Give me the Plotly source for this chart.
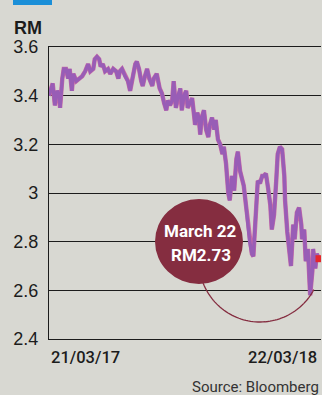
import math
import plotly.graph_objects as go

# ---- data ----
dates = [
    "2017-03-21", "2017-03-24", "2017-03-26", "2017-03-29", "2017-04-01", "2017-04-04", "2017-04-05",
    "2017-04-08", "2017-04-10", "2017-04-13", "2017-04-16", "2017-04-18", "2017-04-21", "2017-04-23",
    "2017-04-27", "2017-05-01", "2017-05-05", "2017-05-09", "2017-05-13", "2017-05-16", "2017-05-20",
    "2017-05-22", "2017-05-25", "2017-05-28", "2017-05-30", "2017-06-02", "2017-06-05", "2017-06-09",
    "2017-06-12", "2017-06-16", "2017-06-20", "2017-06-23", "2017-06-25", "2017-06-28", "2017-07-02",
    "2017-07-06", "2017-07-09", "2017-07-12", "2017-07-16", "2017-07-18", "2017-07-21", "2017-07-24",
    "2017-07-26", "2017-07-29", "2017-08-01", "2017-08-04", "2017-08-08", "2017-08-10", "2017-08-14",
    "2017-08-18", "2017-08-21", "2017-08-24", "2017-08-27", "2017-08-29", "2017-09-01", "2017-09-04",
    "2017-09-06", "2017-09-09", "2017-09-12", "2017-09-15", "2017-09-17", "2017-09-20", "2017-09-23",
    "2017-09-25", "2017-09-28", "2017-10-01", "2017-10-04", "2017-10-05", "2017-10-08", "2017-10-10",
    "2017-10-12", "2017-10-14", "2017-10-17", "2017-10-20", "2017-10-23", "2017-10-25", "2017-10-28",
    "2017-10-31", "2017-11-02", "2017-11-05", "2017-11-08", "2017-11-11", "2017-11-13", "2017-11-16",
    "2017-11-19", "2017-11-21", "2017-11-24", "2017-11-27", "2017-11-30", "2017-12-02", "2017-12-05",
    "2017-12-08", "2017-12-10", "2017-12-13", "2017-12-16", "2017-12-18", "2017-12-21", "2017-12-23",
    "2017-12-25", "2017-12-28", "2017-12-29", "2018-01-01", "2018-01-04", "2018-01-06", "2018-01-09",
    "2018-01-12", "2018-01-15", "2018-01-17", "2018-01-20", "2018-01-23", "2018-01-25", "2018-01-28",
    "2018-01-31", "2018-02-03", "2018-02-04", "2018-02-07", "2018-02-09", "2018-02-12", "2018-02-15",
    "2018-02-17", "2018-02-20", "2018-02-23", "2018-02-26", "2018-02-27", "2018-03-02", "2018-03-04",
    "2018-03-07", "2018-03-10", "2018-03-13", "2018-03-14", "2018-03-17", "2018-03-19", "2018-03-22",
]
rate = [
    3.40, 3.43, 3.45, 3.36, 3.42, 3.40, 3.35,
    3.47, 3.51, 3.51, 3.47, 3.51, 3.42, 3.49,
    3.46, 3.47, 3.48, 3.50, 3.53, 3.50, 3.51,
    3.55, 3.56, 3.55, 3.52, 3.53, 3.50, 3.51,
    3.49, 3.51, 3.50, 3.47, 3.50, 3.51, 3.48,
    3.46, 3.42, 3.47, 3.53, 3.54, 3.51, 3.46,
    3.44, 3.48, 3.51, 3.47, 3.44, 3.47, 3.49,
    3.43, 3.41, 3.37, 3.34, 3.38, 3.36, 3.38,
    3.46, 3.35, 3.40, 3.43, 3.34, 3.40, 3.42,
    3.35, 3.37, 3.39, 3.31, 3.28, 3.33, 3.31,
    3.24, 3.31, 3.34, 3.26, 3.23, 3.28, 3.31,
    3.26, 3.30, 3.22, 3.20, 3.16, 3.19, 3.12,
    3.00, 2.97, 3.07, 3.01, 3.14, 3.17, 3.09,
    3.06, 3.03, 2.95, 2.86, 2.80, 2.75, 2.74,
    2.85, 2.99, 3.05, 3.04, 3.07, 3.07, 3.08,
    3.02, 2.95, 2.85, 2.91, 3.05, 3.16, 3.19,
    3.18, 3.07, 2.97, 2.84, 2.77, 2.70, 2.87,
    2.81, 2.92, 2.94, 2.87, 2.81, 2.85, 2.72,
    2.77, 2.58, 2.68, 2.77, 2.69, 2.75, 2.73,
]
y_ticks = [2.4, 2.6, 2.8, 3.0, 3.2, 3.4, 3.6]
y_tick_labels = ["2.4", "2.6", "2.8", "3", "3.2", "3.4", "3.6"]
x_tick_dates = ["2017-03-21", "2018-03-22"]
x_tick_labels = ["21/03/17", "22/03/18"]
callout_lines = ["March 22", "RM2.73"]

# ---- layout geometry (pixels) ----
W, H = 322, 395
L, R, T, B = 49, 321, 47, 339


def px(x):
    return (x - L) / (R - L)


def py(y):
    return (B - y) / (B - T)


BG = "#d8d8d2"
INK = "#1c1c1c"
MAROON = "#852d40"

fig = go.Figure()
fig.add_trace(go.Scatter(
    x=dates, y=rate, mode="lines",
    line=dict(color="#c76aa6", width=4.4),
    hoverinfo="skip", showlegend=False,
))
fig.add_trace(go.Scatter(
    x=dates, y=rate, mode="lines",
    line=dict(color="#985db6", width=3.4),
    hoverinfo="skip", showlegend=False,
))
fig.add_trace(go.Scatter(
    x=[dates[-1]], y=[rate[-1]], mode="markers",
    marker=dict(color="#e6262c", size=7, symbol="square"),
    hoverinfo="skip", showlegend=False,
))

# thin arc around the latest dip
cx, cy, rr = 260, 261, 61
pts = []
for i in range(0, 61):
    a = math.radians(28 + (165 - 28) * i / 60)
    pts.append((px(cx + rr * math.cos(a)), py(cy + rr * math.sin(a))))
path = "M " + " L ".join(f"{x:.4f},{y:.4f}" for x, y in pts)

shapes = [
    dict(type="path", xref="paper", yref="paper", path=path,
         line=dict(color=MAROON, width=1.3), layer="above"),
    dict(type="circle", xref="paper", yref="paper",
         x0=px(155), x1=px(243), y0=py(284), y1=py(199),
         fillcolor=MAROON, line=dict(width=0), layer="above"),
    dict(type="rect", xref="paper", yref="paper",
         x0=px(13), x1=px(52), y0=py(5), y1=py(-2),
         fillcolor="#1b8fd8", line=dict(width=0)),
]

annotations = [
    dict(text="<b>RM</b>", xref="paper", yref="paper", x=px(44), y=py(28),
         xanchor="right", yanchor="middle", showarrow=False,
         font=dict(family="Liberation Sans", size=18, color=INK)),
    dict(text=callout_lines[0], xref="paper", yref="paper", x=px(200), y=py(231),
         xanchor="center", yanchor="middle", showarrow=False,
         font=dict(family="Roboto", size=17, color="white", weight=700)),
    dict(text=callout_lines[1], xref="paper", yref="paper", x=px(201), y=py(255),
         xanchor="center", yanchor="middle", showarrow=False,
         font=dict(family="Roboto", size=17, color="white", weight=700)),
    dict(text="Source: Bloomberg", xref="paper", yref="paper", x=px(321), y=py(387),
         xanchor="right", yanchor="middle", showarrow=False,
         font=dict(family="Roboto", size=15, color="#333333")),
]
for d, lab, anchor in zip(x_tick_dates, x_tick_labels, ["left", "right"]):
    annotations.append(dict(
        text=lab, xref="x", yref="paper", x=d, y=py(357),
        xanchor=anchor, yanchor="middle", showarrow=False,
        font=dict(family="Roboto", size=16.5, color=INK, weight=500)))

fig.update_layout(
    width=W, height=H,
    margin=dict(l=L, r=W - R, t=T, b=H - B, pad=0),
    paper_bgcolor=BG, plot_bgcolor=BG,
    shapes=shapes, annotations=annotations,
    xaxis=dict(range=["2017-03-21", "2018-03-24 16:48"], showgrid=False,
               showticklabels=False, ticks="", zeroline=False,
               showline=True, mirror=True, linecolor=INK, linewidth=1.4),
    yaxis=dict(range=[2.4, 3.6], tickvals=y_ticks, ticktext=y_tick_labels,
               showgrid=True, gridcolor=INK, gridwidth=1.4, zeroline=False,
               showline=True, linecolor=INK, linewidth=1.4, ticks="",
               ticklabelstandoff=6,
               tickfont=dict(family="Liberation Sans", size=18, color=INK)),
)

fig.write_html("out.html")
